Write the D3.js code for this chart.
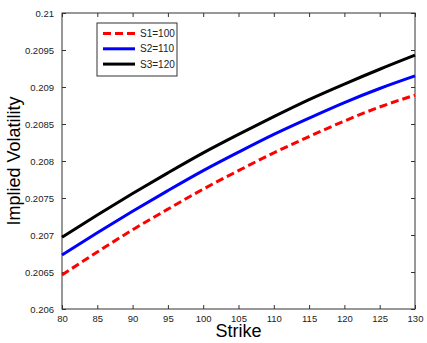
<!DOCTYPE html>
<html>
<head>
<meta charset="utf-8">
<script src="https://cdn.jsdelivr.net/npm/d3@7"></script>
<style>
  body { margin: 0; background: #fff; }
  text { font-family: "Liberation Sans", Arial, sans-serif; }
</style>
</head>
<body>
<svg id="svg" width="427" height="343"></svg>
<script>
// strikes and implied vols
var strikes = [80, 85, 90, 95, 100, 105, 110, 115, 120, 125, 130];
var volS1 = [0.20646, 0.20677, 0.20707, 0.20735, 0.20762, 0.20787, 0.20811, 0.20833, 0.20854, 0.20873, 0.20889];
var volS2 = [0.20673, 0.20703, 0.20732, 0.20760, 0.20787, 0.20812, 0.20836, 0.20858, 0.20879, 0.20898, 0.20915];
var volS3 = [0.20697, 0.20727, 0.20756, 0.20784, 0.20811, 0.20836, 0.20860, 0.20883, 0.20904, 0.20924, 0.20943];
var seriesNames = ['S1=100', 'S2=110', 'S3=120'];
var xTicks = [80, 85, 90, 95, 100, 105, 110, 115, 120, 125, 130];
var yTicks = [0.206, 0.2065, 0.207, 0.2075, 0.208, 0.2085, 0.209, 0.2095, 0.21];

(function() {

var series = [
  {name: seriesNames[0], values: volS1, color: '#ff0000', dash: '8,4'},
  {name: seriesNames[1], values: volS2, color: '#0000ff', dash: null},
  {name: seriesNames[2], values: volS3, color: '#000000', dash: null}
];

// plot box in pixels
var pLeft = 62, pRight = 415, pTop = 13, pBottom = 309;
var svg = d3.select('#svg');

var x = d3.scaleLinear().domain([80, 130]).range([pLeft, pRight]);
var y = d3.scaleLinear().domain([0.206, 0.21]).range([pBottom, pTop]);

// axes, ticks pointing inward like matlab
function styleAxis(g) {
  g.select('.domain').remove();
  g.selectAll('.tick line').attr('stroke', '#333');
  g.selectAll('.tick text').attr('fill', '#222').style('font-size', '9.5px');
}

svg.append('g')
  .attr('transform', 'translate(0,' + pBottom + ')')
  .call(d3.axisBottom(x).tickValues(xTicks).tickSizeInner(-4).tickSizeOuter(0).tickPadding(6).tickFormat(d3.format('d')))
  .call(styleAxis);
svg.append('g')
  .attr('transform', 'translate(0,' + pTop + ')')
  .call(d3.axisTop(x).tickValues(xTicks).tickSizeInner(-4).tickSizeOuter(0).tickFormat(''))
  .call(styleAxis);
svg.append('g')
  .attr('transform', 'translate(' + pLeft + ',0)')
  .call(d3.axisLeft(y).tickValues(yTicks).tickSizeInner(-4).tickSizeOuter(0).tickPadding(8).tickFormat(d => +d.toFixed(4)))
  .call(styleAxis);
svg.append('g')
  .attr('transform', 'translate(' + pRight + ',0)')
  .call(d3.axisRight(y).tickValues(yTicks).tickSizeInner(-4).tickSizeOuter(0).tickFormat(''))
  .call(styleAxis);

svg.append('rect')
  .attr('x', pLeft).attr('y', pTop)
  .attr('width', pRight - pLeft).attr('height', pBottom - pTop)
  .attr('fill', 'none').attr('stroke', '#333').attr('stroke-width', 1);

var line = d3.line()
  .x((d, i) => x(strikes[i]))
  .y(d => y(d))
  .curve(d3.curveMonotoneX);

svg.selectAll('path.series')
  .data(series)
  .enter().append('path')
  .attr('class', 'series')
  .attr('d', d => line(d.values))
  .attr('fill', 'none')
  .attr('stroke', d => d.color)
  .attr('stroke-width', 3)
  .attr('stroke-dasharray', d => d.dash);

// axis labels
svg.append('text')
  .attr('x', (pLeft + pRight) / 2).attr('y', 337)
  .attr('text-anchor', 'middle')
  .style('font-size', '18px')
  .text('Strike');
svg.append('text')
  .attr('transform', 'translate(20,' + ((pTop + pBottom) / 2) + ') rotate(-90)')
  .attr('text-anchor', 'middle')
  .style('font-size', '18px')
  .text('Implied Volatility');

// legend
var legend = svg.append('g').attr('transform', 'translate(97,23)');
legend.append('rect')
  .attr('width', 80).attr('height', 53)
  .attr('fill', '#fff').attr('stroke', '#333');
var item = legend.selectAll('g.item')
  .data(series)
  .enter().append('g')
  .attr('class', 'item')
  .attr('transform', (d, i) => 'translate(0,' + (10.5 + i * 15.3) + ')');
item.append('line')
  .attr('x1', 6).attr('x2', 38)
  .attr('stroke', d => d.color)
  .attr('stroke-width', 3)
  .attr('stroke-dasharray', d => d.dash);
item.append('text')
  .attr('x', 43).attr('dy', '0.35em')
  .style('font-size', '10px')
  .attr('fill', '#222')
  .text(d => d.name);

})();
</script>
</body>
</html>
